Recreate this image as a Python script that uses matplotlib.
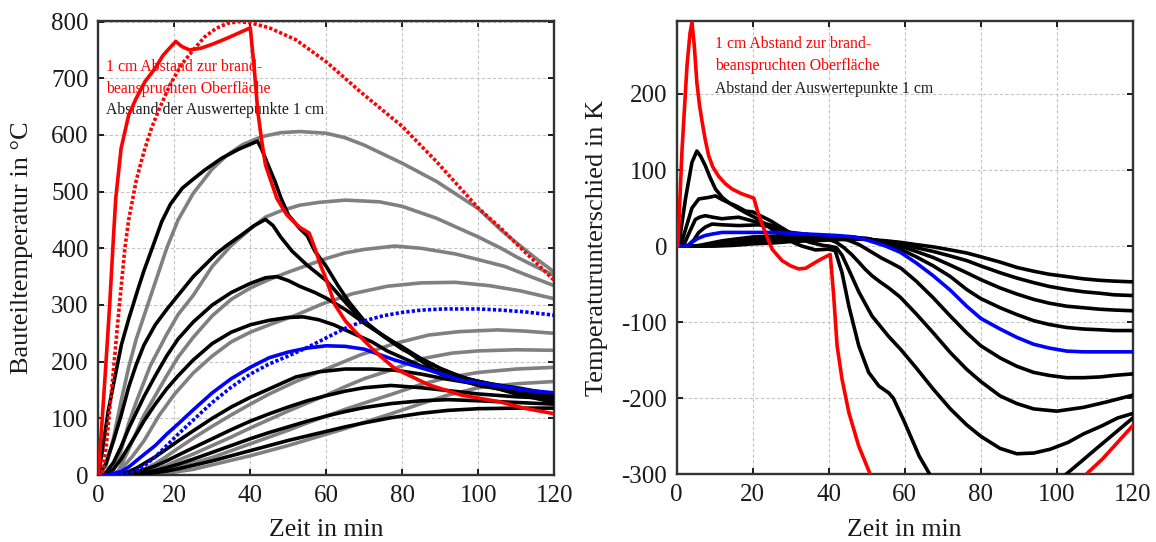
import matplotlib
matplotlib.use("Agg")
import matplotlib.pyplot as plt

plt.rcParams['font.family'] = ['Liberation Serif', 'DejaVu Serif']

# ---------------- Bauteiltemperatur (left panel) ----------------
# 1 cm depth, solid model (red) and reference model (red dotted)
t_s1 = [0, 1, 2, 3, 4, 4.6, 6, 8, 10, 12.3, 15, 17, 19, 20.4, 22, 24, 27, 30, 34, 37,
        40, 41, 42, 43, 44, 47, 49.6, 53, 55.5, 57, 58.5, 60, 62.3, 65, 67.6, 72.8, 78, 87, 95.6, 105.7,
        112, 120]
T_s1 = [0, 95, 195, 300, 420, 488, 576, 635, 665, 694, 718, 740, 755, 765, 756, 750, 753, 760, 771, 780,
        789, 720, 640, 590, 547, 488, 459, 437, 427, 400, 370, 345, 300, 272, 253, 218, 188, 159, 141, 129,
        118, 108]
t_g1 = [0, 1, 2, 3, 4, 5, 6, 7, 8, 10, 12, 14, 16, 19, 22, 25, 28, 31, 34, 37,
        40, 45, 52, 60, 69, 80, 89, 100, 106, 110, 115, 120]
T_g1 = [0, 0, 45, 115, 185, 260, 330, 400, 450, 520, 570, 612, 645, 690, 725, 750, 773, 788, 797, 800,
        798, 789, 768, 729, 676, 615, 553, 471, 435, 408, 376, 343]

# deeper points, black = model A, gray = model B (blue = 6 cm)
t_b2 = [0, 1, 2.6, 4, 6.1, 8, 10.5, 12, 14.5, 16.7, 19, 22.1, 25, 28, 32.5, 37, 41.9, 43, 44.5, 46.5,
        48, 50, 53, 55, 57, 60, 63, 66, 70, 75, 80, 90, 100, 110, 120]
T_b2 = [0, 40, 112, 160, 230, 275, 329, 360, 406, 447, 478, 506, 522, 538, 559, 575, 589, 575, 550, 518,
        490, 459, 435, 422, 395, 368, 335, 305, 272, 245, 222, 188, 162, 143, 128]
t_g2 = [0, 2, 4, 6, 8, 10, 13, 15, 18, 21, 25, 30, 34, 38, 43, 48, 53, 60, 65, 70,
        80, 89, 100, 106, 110, 115, 120]
T_g2 = [0, 15, 65, 130, 190, 240, 300, 340, 400, 450, 497, 540, 565, 583, 597, 604, 606, 603, 595, 582,
        550, 518, 470, 432, 410, 383, 358]

t_b3 = [0, 2, 4, 6, 8, 10, 12, 15, 18, 21, 25, 28, 31, 34, 38, 41, 44, 46, 48, 51,
        55, 60, 65, 70, 76, 80, 90, 100, 107, 113, 120]
T_b3 = [0, 20, 60, 105, 155, 195, 229, 265, 292, 317, 350, 370, 390, 406, 425, 440, 451, 440, 420, 395,
        370, 343, 305, 268, 242, 224, 178, 158, 150, 142, 132]
t_g3 = [0, 2, 4, 6, 8, 10, 13.7, 18, 21, 25, 30, 35, 40, 44, 48, 53, 58, 65, 74, 80,
        89, 100, 106, 110, 115, 120]
T_g3 = [0, 3, 10, 43, 91, 129, 193, 248, 283, 317, 368, 405, 434, 455, 466, 476, 481, 485, 482, 474,
        453, 420, 400, 385, 368, 352]

t_b4 = [0, 2, 4, 6, 8, 10, 12, 15, 18, 21, 25, 30, 35, 40, 44, 47, 50, 53, 57, 60,
        65, 70, 76, 80, 85, 90, 94, 100, 107, 113, 120]
T_b4 = [0, 4, 22, 50, 82, 110, 138, 175, 210, 240, 270, 300, 322, 338, 348, 350, 343, 333, 322, 312,
        292, 268, 241, 226, 205, 188, 176, 165, 156, 148, 137]
t_g4 = [0, 3, 5, 7.5, 10, 12, 15, 18, 21, 25, 30, 35, 40, 45, 50, 55, 60, 65, 70, 78,
        85, 94, 100, 107, 113, 120]
T_g4 = [0, 0, 3, 38, 75, 105, 140, 175, 208, 243, 281, 310, 330, 345, 358, 370, 382, 392, 398, 404,
        400, 390, 380, 368, 352, 334]

t_b5 = [0, 2, 4, 6, 8, 10, 12, 15, 18, 21, 25, 30, 35, 40, 45, 50, 54, 58, 62, 67,
        72, 76, 80, 85, 94, 103, 111, 120]
T_b5 = [0, 2, 10, 28, 50, 72, 95, 125, 152, 175, 203, 232, 252, 265, 273, 278, 279, 274, 265, 250,
        235, 219, 207, 192, 174, 161, 153, 142]
t_g5 = [0, 4, 6, 9, 12, 16, 20, 25, 30, 35, 40, 45, 52, 59, 67, 76, 85, 94, 103, 111, 120]
T_g5 = [0, 2, 10, 33, 60, 105, 142, 180, 210, 235, 252, 265, 282, 302, 320, 333, 339, 340, 334, 325, 311]

t_b6 = [0, 3, 6, 8, 10, 12, 15, 18, 21, 25, 30, 35, 40, 45, 50, 55, 60, 65, 70, 78,
        87, 95.6, 105.7, 112, 120]
T_b6 = [0, 1, 6, 14, 25, 36, 52, 72, 90, 115, 145, 170, 190, 207, 217, 224, 228, 227, 222, 203,
        185, 167, 157, 150, 145]
t_g6 = [0, 5, 8, 10, 12, 15, 18, 21, 25, 30, 35, 40, 45, 50, 55, 60, 65, 70, 75, 80,
        85, 91, 100, 106, 112, 120]
T_g6 = [0, 0, 2, 8, 16, 32, 52, 72, 97, 128, 155, 178, 196, 210, 225, 242, 259, 272, 281, 287,
        291, 293, 293, 291, 288, 282]

t_b7 = [0, 4, 6, 8, 10, 12, 15, 18, 21, 25, 30, 35, 40, 45, 52, 58, 65, 72, 78, 85,
        91, 100, 106, 113, 120]
T_b7 = [0, 0, 2, 6, 12, 20, 32, 46, 60, 78, 100, 120, 137, 152, 173, 182, 187, 187, 185, 178,
        170, 160, 153, 146, 139]
t_g7 = [0, 5, 8, 10, 12, 15, 18, 21, 25, 30, 35, 40, 45, 52, 60, 69, 78, 87, 95, 105, 112, 120]
T_g7 = [0, 0, 3, 6, 10, 20, 33, 47, 65, 86, 106, 125, 143, 165, 187, 212, 232, 247, 253, 256, 254, 250]

t_b8 = [0, 5, 8, 10, 12, 15, 18, 21, 25, 30, 35, 40, 45, 50, 55, 60, 65, 70, 77, 85,
        92, 100, 110, 120]
T_b8 = [0, 0, 2, 5, 9, 16, 25, 35, 48, 64, 80, 95, 108, 120, 131, 140, 148, 154, 158, 154,
        149, 143, 138, 135]
t_g8 = [0, 6, 10, 12, 15, 18, 21, 25, 30, 35, 40, 45, 50, 55, 60, 65, 70, 76, 85, 93,
        100, 110, 120]
T_g8 = [0, 0, 2, 5, 10, 17, 26, 37, 52, 67, 83, 98, 113, 127, 141, 156, 170, 183, 205, 215,
        219, 221, 220]

t_b9 = [0, 5, 10, 12, 15, 18, 21, 25, 30, 35, 40, 45, 50, 55, 60, 65, 70, 77, 85, 92,
        100, 110, 120]
T_b9 = [0, 0, 2, 4, 8, 13, 19, 28, 40, 52, 64, 75, 85, 95, 104, 112, 119, 126, 131, 133,
        131, 128, 125]
t_g9 = [0, 8, 12, 15, 18, 21, 25, 30, 35, 40, 45, 50, 55, 60, 65, 70, 77, 85, 92, 100, 110, 120]
T_g9 = [0, 0, 2, 5, 9, 14, 21, 31, 43, 55, 67, 79, 92, 104, 116, 127, 142, 160, 172, 181, 187, 190]

t_b10 = [0, 6, 10, 15, 18, 21, 25, 30, 35, 40, 45, 50, 55, 60, 65, 70, 77, 85, 92, 100, 110, 120]
T_b10 = [0, 0, 1, 4, 7, 11, 17, 25, 34, 43, 52, 61, 69, 77, 85, 92, 101, 109, 114, 117, 118, 118]
t_g10 = [0, 10, 15, 18, 21, 25, 30, 35, 40, 45, 50, 55, 60, 65, 70, 77, 85, 92, 100, 110, 120]
T_g10 = [0, 0, 2, 3, 6, 10, 18, 26, 34, 43, 52, 62, 72, 82, 93, 108, 126, 141, 154, 161, 165]

# ---------------- Temperaturunterschied (right panel) ----------------
t_d1 = [0, 0.3, 1.4, 2.7, 3.5, 4.0, 4.6, 5.3, 6.0, 6.7, 7.5, 8.4, 9.5, 11, 12.8, 14.6, 17, 19.8, 20.3, 21.6,
        23.3, 25.1, 27.7, 30, 32.1, 34, 35.6, 38, 40.4, 41.3, 42.2, 43.5, 45.3, 47.9, 51, 55, 60, 70, 80, 90,
        100, 107.5, 112, 116, 120]
D_d1 = [0, 0, 127, 237, 280, 294, 265, 215, 185, 163, 140, 119, 104, 92, 82, 75, 69, 64, 63, 40,
        18, -4, -19, -26, -30, -29, -24, -17, -11, -65, -131, -175, -219, -263, -301, -340, -380, -430, -440, -420,
        -360, -301, -280, -258, -236]
t_d2 = [0, 0.5, 2.3, 4, 5.3, 6.3, 7.5, 8.8, 10.2, 12, 13.7, 16, 18.1, 21.6, 25.1, 28.6, 31, 33, 36.5, 40,
        41.7, 43.5, 45.3, 47.9, 50.5, 53.2, 55.8, 57, 59.9, 63.8, 66.7, 70, 80, 90, 100, 102.2, 106, 110, 115, 120]
D_d2 = [0, 0, 62, 110, 125, 118, 106, 90, 75, 64, 57, 50, 44, 35, 22, 11, 4, 0, -5, -4,
        -6, -35, -79, -131, -166, -184, -193, -200, -231, -276, -301, -320, -332, -322, -306, -301, -285, -268, -247, -226]
t_d3 = [0, 1, 2.5, 4, 5.8, 8.4, 10.2, 12, 13.7, 16, 18.1, 20, 22, 24.8, 26.7, 28.7, 30.5, 32.6, 35, 38.5,
        40, 42, 43.5, 45, 47.9, 51.4, 55.8, 58.8, 63, 67.5, 72, 76.3, 80, 85.1, 89.5, 94, 98.3, 103, 107, 112,
        116, 120]
D_d3 = [0, 0, 25, 50, 62, 64, 66, 61, 57, 52, 46, 45, 40, 33, 27, 21, 15, 10, 5, 1,
        0, -2, -12, -28, -60, -92, -119, -135, -160, -188, -214, -235, -250, -266, -273, -272, -267, -258, -247, -236,
        -226, -220]
t_d4 = [0, 2, 3.5, 4.9, 6, 7.5, 9.5, 11.9, 14, 16.3, 18.5, 20.7, 23, 25.1, 27.3, 29.5, 32, 35, 40, 42,
        44, 46, 47.9, 49.5, 51.4, 53.5, 55.8, 58.8, 63, 67.5, 72, 76.3, 80, 85.1, 89.5, 93.9, 100, 107, 113, 120]
D_d4 = [0, 3, 20, 35, 38, 40, 38, 36, 37, 38, 35, 32, 30, 27, 23, 18, 15, 12, 9, 5,
        -2, -11, -21, -30, -39, -47, -55, -67, -89, -114, -140, -162, -178, -197, -207, -214, -217, -212, -205, -196]
t_d5 = [0, 3, 4.5, 5.8, 7.5, 9.3, 12, 16.3, 21.6, 24, 26.8, 30, 35, 40, 45, 48, 50, 52, 54, 56,
        59, 63, 67.5, 72, 76.3, 80, 85.1, 89.5, 93.9, 98, 102.6, 107, 111.4, 115, 120]
D_d5 = [0, 1, 8, 18, 25, 29, 28, 27, 28, 26, 22, 18, 15, 12, 8, 2, -4, -10, -16, -21,
        -29, -46, -68, -92, -114, -131, -147, -158, -166, -170, -173, -173, -172, -170, -168]
t_d6 = [0, 3, 4, 5.5, 7.5, 9.5, 11.9, 16, 20.7, 25, 30, 33.9, 38, 42, 47, 50, 53.2, 55, 58.8, 63,
        67.5, 72, 76.3, 80, 85.1, 89.5, 93.9, 98, 102.6, 107, 111.4, 115, 120]
D_d6 = [0, 0, 5, 10, 14, 16, 18, 18, 18, 18, 17, 16, 15, 14, 12, 8, 3, 0, -8, -22,
        -39, -58, -79, -95, -109, -120, -129, -134, -138, -139, -139, -139, -139]
t_d7 = [0, 4, 6, 8, 10, 12, 15, 20, 25, 30, 35, 40, 45, 50, 53, 55, 58.8, 63, 67.5, 72,
        76.3, 80, 85.1, 89.5, 93.9, 98, 102.6, 107, 111.4, 115, 120]
D_d7 = [0, 0, 1, 3, 5, 7, 9, 12, 13, 14, 14, 13, 12, 10, 7, 3, -4, -14, -26, -40,
        -57, -69, -81, -90, -98, -103, -107, -109, -110, -111, -111]
t_d8 = [0, 5, 8, 10, 15, 20, 25, 30, 35, 40, 45, 50, 55, 58.8, 63, 67.5, 72, 76.3, 80, 85.1,
        89.5, 93.9, 98, 102.6, 107, 111.4, 115, 120]
D_d8 = [0, 0, 1, 2, 5, 8, 10, 11, 12, 12, 11, 10, 5, 0, -7, -15, -25, -35, -44, -55,
        -63, -70, -75, -79, -81, -83, -84, -85]
t_d9 = [0, 6, 10, 15, 20, 25, 30, 35, 40, 45, 50, 55, 58.8, 63, 67.5, 72, 76.3, 80, 85.1, 89.5,
        93.9, 98, 102.6, 107, 111.4, 115, 120]
D_d9 = [0, 0, 1, 3, 5, 7, 8, 9, 10, 10, 9, 6, 2, -2, -7, -13, -19, -26, -35, -42,
        -48, -53, -57, -60, -62, -64, -65]
t_d10 = [0, 7, 10, 15, 20, 25, 30, 35, 40, 45, 50, 55, 58.8, 63, 67.5, 72, 76.3, 80, 85.1, 89.5,
         93.9, 98, 102.6, 107, 111.4, 115, 120]
D_d10 = [0, 0, 0, 1, 3, 4, 6, 7, 8, 9, 9, 7, 5, 2, -1, -5, -9, -14, -21, -28,
         -33, -37, -40, -43, -45, -46, -47]

x_ticks = [0, 20, 40, 60, 80, 100, 120]
y_ticks_left = [0, 100, 200, 300, 400, 500, 600, 700, 800]
y_ticks_right = [-300, -200, -100, 0, 100, 200]

note_red = ["1 cm Abstand zur brand-", "beanspruchten Oberfläche"]
note_black = "Abstand der Auswertepunkte 1 cm"

RED = '#ff0000'
BLUE = '#0000ff'
GRAY = '#808080'
BLACK = '#000000'
TXT = '#1a1a1a'
LW = 2.6
DOT = (0, (0.9, 0.6))

fig = plt.figure(figsize=(11.56, 5.42), dpi=100)
axL = fig.add_axes([0.0850, 0.1236, 0.3945, 0.8376])
axR = fig.add_axes([0.5854, 0.1249, 0.3945, 0.8364])


def style(ax, yticks, ylim, ylabel, ylab_x):
    ax.set_xlim(0, 120)
    ax.set_ylim(*ylim)
    ax.set_xticks(x_ticks)
    ax.set_yticks(yticks)
    ax.set_xticklabels([str(v) for v in x_ticks])
    ax.set_yticklabels([str(v) for v in yticks])
    ax.grid(True, color='#c4c4c4', linestyle=(0, (3, 2)), linewidth=0.8)
    ax.set_axisbelow(True)
    ax.tick_params(direction='in', length=4, width=1.4, top=True, right=True,
                   labelsize=18, pad=7, colors=TXT)
    for s in ax.spines.values():
        s.set_linewidth(1.7)
        s.set_color('#333333')
    ax.set_xlabel('Zeit in min', fontsize=18.5, color=TXT, va='center')
    ax.xaxis.set_label_coords(0.5, -0.122)
    ax.set_ylabel(ylabel, fontsize=19, color=TXT, va='center', ha='center')
    ax.yaxis.set_label_coords(ylab_x, 0.5)


def notes(ax, x, ys):
    for txt, y, c in zip(note_red + [note_black], ys, [RED, RED, TXT]):
        ax.text(x, y, txt, transform=ax.transAxes, color=c, fontsize=11.3,
                va='center', zorder=1.5)


# left panel
gray_series = [(t_g2, T_g2), (t_g3, T_g3), (t_g4, T_g4), (t_g5, T_g5),
               (t_g7, T_g7), (t_g8, T_g8), (t_g9, T_g9), (t_g10, T_g10)]
black_series = [(t_b2, T_b2), (t_b3, T_b3), (t_b4, T_b4), (t_b5, T_b5),
                (t_b7, T_b7), (t_b8, T_b8), (t_b9, T_b9), (t_b10, T_b10)]
for t, v in gray_series:
    axL.plot(t, v, color=GRAY, lw=LW, zorder=2)
for t, v in black_series:
    axL.plot(t, v, color=BLACK, lw=LW, zorder=3)
axL.plot(t_b6, T_b6, color=BLUE, lw=LW, zorder=4)
axL.plot(t_g6, T_g6, color=BLUE, lw=LW, linestyle=DOT, zorder=4)
axL.plot(t_g1, T_g1, color=RED, lw=LW, linestyle=DOT, zorder=5)
axL.plot(t_s1, T_s1, color=RED, lw=LW, zorder=5)
style(axL, y_ticks_left, (0, 801), 'Bauteiltemperatur in °C', -0.167)
notes(axL, 0.018, [0.899, 0.851, 0.804])

# right panel
diff_black = [(t_d2, D_d2), (t_d3, D_d3), (t_d4, D_d4), (t_d5, D_d5),
              (t_d7, D_d7), (t_d8, D_d8), (t_d9, D_d9), (t_d10, D_d10)]
for t, v in diff_black:
    axR.plot(t, v, color=BLACK, lw=LW, zorder=3)
axR.plot(t_d6, D_d6, color=BLUE, lw=LW, zorder=4)
axR.plot(t_d1, D_d1, color=RED, lw=LW, zorder=5)
style(axR, y_ticks_right, (-300, 296), 'Temperaturunterschied in K', -0.175)
notes(axR, 0.084, [0.949, 0.901, 0.850])

fig.savefig('out.png', dpi=100)
